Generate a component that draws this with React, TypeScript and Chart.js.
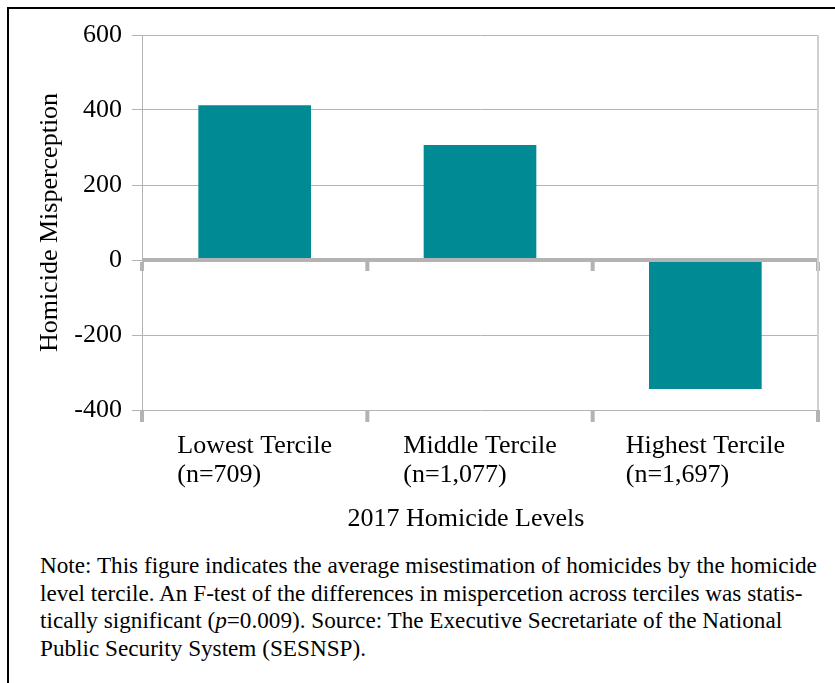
import React, { useEffect, useRef } from "react";
import { Chart, registerables } from "chart.js";

Chart.register(...registerables);

const categories: string[][] = [
  ["Lowest Tercile", "(n=709)"],
  ["Middle Tercile", "(n=1,077)"],
  ["Highest Tercile", "(n=1,697)"],
];
const misperception: number[] = [413, 307, -344];
const yTicks: number[] = [-400, -200, 0, 200, 400, 600];
const yAxisTitle = "Homicide Misperception";
const xAxisTitle = "2017 Homicide Levels";
const noteLines: React.ReactNode[] = [
  "Note: This figure indicates the average misestimation of homicides by the homicide",
  "level tercile. An F-test of the differences in mispercetion across terciles was statis-",
  <>tically significant (<i>p</i>=0.009). Source: The Executive Secretariate of the National</>,
  "Public Security System (SESNSP).",
];

const FONT = '"Liberation Serif", "Times New Roman", serif';
const BAR_COLOR = "#008a94";
const GRID = "#b3b3b3";

const framePlugin = {
  id: "frame",
  afterDatasetsDraw(chart: any) {
    const { ctx, chartArea, scales } = chart;
    const x = scales.x;
    const y = scales.y;
    const y0 = y.getPixelForValue(0);
    const n = categories.length;
    const cw = (chartArea.right - chartArea.left) / n;
    ctx.save();
    ctx.fillStyle = GRID;
    ctx.fillRect(chartArea.left, y0 - 2, chartArea.right - chartArea.left, 4);
    for (let i = 0; i <= n; i++) {
      const xb = i < n ? x.getPixelForValue(i) - cw / 2 : x.getPixelForValue(n - 1) + cw / 2;
      ctx.fillRect(xb - 2, y0 + 2, 4, 9);
      ctx.fillRect(xb - 2, chartArea.bottom, 4, 12);
    }
    ctx.fillStyle = "#d0d0d0";
    ctx.fillRect(chartArea.right - 1, chartArea.top, 2, chartArea.bottom - chartArea.top);
    ctx.fillStyle = "#000";
    ctx.font = `26px ${FONT}`;
    ctx.textBaseline = "alphabetic";
    ctx.textAlign = "left";
    categories.forEach((lines, i) => {
      const cx = x.getPixelForValue(i);
      const w = ctx.measureText(lines[0]).width;
      lines.forEach((t, k) => ctx.fillText(t, cx - w / 2, chartArea.bottom + 43 + k * 29));
    });
    ctx.textAlign = "center";
    ctx.textBaseline = "middle";
    ctx.fillText(xAxisTitle, (chartArea.left + chartArea.right) / 2 - 14, chartArea.bottom + 109);
    ctx.restore();
  },
};

export default function App() {
  const canvasRef = useRef<HTMLCanvasElement | null>(null);

  useEffect(() => {
    if (!canvasRef.current) return;
    const chart = new Chart(canvasRef.current, {
      type: "bar",
      data: {
        labels: categories,
        datasets: [
          {
            data: misperception,
            backgroundColor: BAR_COLOR,
            borderWidth: 0,
            barPercentage: 0.5,
            categoryPercentage: 1,
          },
        ],
      },
      options: {
        responsive: false,
        animation: false,
        devicePixelRatio: 1,
        layout: { padding: { left: 30, top: 35, right: 17, bottom: 0 } },
        plugins: { legend: { display: false }, tooltip: { enabled: false }, title: { display: false } },
        scales: {
          x: {
            offset: true,
            grid: { display: false },
            border: { display: false },
            ticks: { display: false },
            title: { display: false },
            afterFit: (scale: any) => {
              scale.height = 135;
            },
          },
          y: {
            min: -400,
            max: 600,
            afterBuildTicks: (scale: any) => {
              scale.ticks = yTicks.map((v) => ({ value: v }));
            },
            grid: { color: GRID, lineWidth: 1, tickLength: 10, drawTicks: true },
            border: { display: true, color: GRID, width: 1 },
            ticks: {
              color: "#000",
              font: { family: FONT, size: 26 },
              padding: 10,
            },
            title: {
              display: true,
              text: yAxisTitle,
              color: "#000",
              font: { family: FONT, size: 26 },
              padding: { top: 5, bottom: 0 },
            },
            afterFit: (scale: any) => {
              scale.width = 112;
            },
          },
        },
      },
      plugins: [framePlugin],
    });
    return () => chart.destroy();
  }, []);

  return (
    <div style={{ position: "fixed", left: 0, top: 0, width: 835, height: 683, overflow: "hidden", background: "#fff" }}>
      <div
        style={{
          position: "absolute",
          left: 7,
          top: 7,
          width: 900,
          height: 800,
          borderLeft: "2px solid #000",
          borderTop: "2px solid #000",
        }}
      />
      <canvas ref={canvasRef} width={835} height={545} style={{ position: "absolute", left: 0, top: 0 }} />
      <div
        style={{
          position: "absolute",
          left: 40,
          top: 552,
          fontFamily: FONT,
          fontSize: 23.2,
          lineHeight: "27.7px",
          color: "#000",
          whiteSpace: "nowrap",
        }}
      >
        {noteLines.map((l, i) => (
          <div key={i}>{l}</div>
        ))}
      </div>
    </div>
  );
}
